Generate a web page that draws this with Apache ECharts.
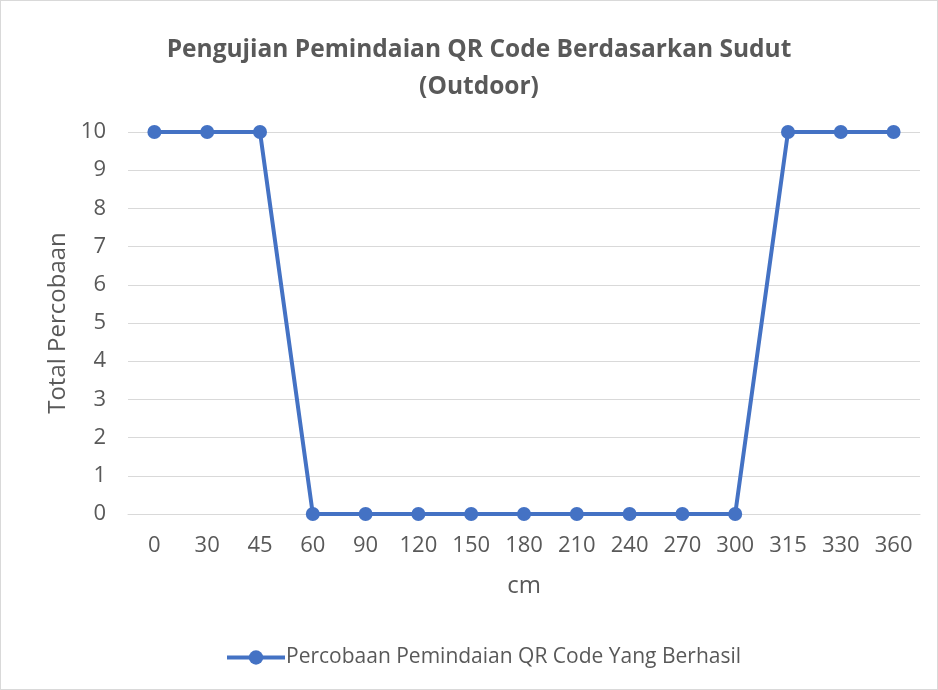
<!DOCTYPE html>
<html>
<head>
<meta charset="utf-8">
<script src="https://cdn.jsdelivr.net/npm/echarts@6/dist/echarts.min.js"></script>
<style>
  html, body { margin: 0; padding: 0; background: #fff; }
  #chart { width: 936px; height: 688px; border: 1px solid #d9d9d9; }
</style>
</head>
<body>
<div id="chart"></div>
<script>
// sudut (x axis) and hasil
var categories = ['0', '30', '45', '60', '90', '120', '150', '180', '210', '240', '270', '300', '315', '330', '360']
var berhasil = [10, 10, 10, 0, 0, 0, 0, 0, 0, 0, 0, 0, 10, 10, 10]
var seriesName = 'Percobaan Pemindaian QR Code Yang Berhasil'

var textColor = '#595959'
var font = 'Open Sans'

var chart = echarts.init(document.getElementById('chart'))
chart.setOption({
  animation: false,
  title: {
    text: 'Pengujian Pemindaian QR Code Berdasarkan Sudut\n(Outdoor)',
    left: 473,
    textAlign: 'center',
    top: 26,
    textStyle: {
      fontFamily: font,
      fontSize: 24.5,
      fontWeight: 'bold',
      color: textColor,
      lineHeight: 37
    }
  },
  legend: {
    bottom: 16,
    left: 219,
    itemWidth: 58,
    itemHeight: 18,
    itemGap: 0,
    lineStyle: { width: 4 },
    textStyle: { fontFamily: font, fontSize: 21, color: textColor, padding: [0, 0, 0, -4] },
    data: [seriesName]
  },
  grid: {
    left: 127,
    right: 17,
    top: 131,
    bottom: 175
  },
  xAxis: {
    type: 'category',
    data: categories,
    name: 'cm',
    nameLocation: 'middle',
    nameGap: 60,
    nameTextStyle: { fontFamily: font, fontSize: 24, color: textColor },
    axisLine: { lineStyle: { color: '#d9d9d9', width: 1 } },
    axisTick: { show: false },
    axisLabel: { fontFamily: font, fontSize: 22, color: textColor, margin: 21 }
  },
  yAxis: {
    type: 'value',
    min: 0,
    max: 10,
    interval: 1,
    name: 'Total Percobaan',
    nameLocation: 'middle',
    nameGap: 56,
    nameTextStyle: { fontFamily: font, fontSize: 24, color: textColor },
    axisLine: { show: false },
    axisTick: { show: false },
    axisLabel: { fontFamily: font, fontSize: 22, color: textColor, margin: 22 },
    splitLine: { lineStyle: { color: '#d9d9d9', width: 1 } }
  },
  series: [{
    name: seriesName,
    type: 'line',
    data: berhasil,
    symbol: 'circle',
    symbolSize: 14,
    itemStyle: { color: '#4472C4' },
    lineStyle: { color: '#4472C4', width: 4 }
  }]
})
</script>
</body>
</html>
